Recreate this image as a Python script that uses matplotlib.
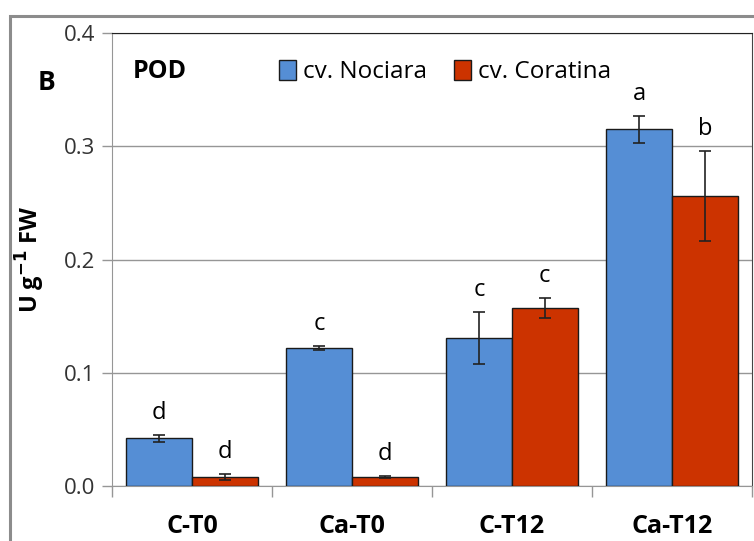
import numpy as np
import matplotlib.pyplot as plt
from matplotlib.patches import Rectangle

plt.rcParams["font.family"] = ["Open Sans", "DejaVu Sans"]

categories = ["C-T0", "Ca-T0", "C-T12", "Ca-T12"]
nociara = [0.042, 0.122, 0.131, 0.315]
nociara_err = [0.003, 0.002, 0.023, 0.012]
nociara_letters = ["d", "c", "c", "a"]
coratina = [0.008, 0.008, 0.157, 0.256]
coratina_err = [0.003, 0.001, 0.009, 0.040]
coratina_letters = ["d", "d", "c", "b"]

blue = "#558ed5"
red = "#cc3300"

fig = plt.figure(figsize=(7.54, 5.41), dpi=100)
ax = fig.add_axes([112 / 754, 1 - 486 / 541, 640 / 754, 453 / 541])

# outer gray frame (cut off at right and bottom like the original)
fig.patches.append(Rectangle((10 / 754, -0.1), 1.2, 1 - 16 / 541 + 0.1,
                             transform=fig.transFigure, fill=False,
                             edgecolor="#8c8c8c", linewidth=2.2, zorder=0))

x = np.arange(len(categories))
w = 0.41
err_kw = dict(ecolor="#222222", elinewidth=1.2, capsize=4.3, capthick=1.2)
ax.bar(x - w / 2, nociara, w, yerr=nociara_err, color=blue,
       edgecolor="#1a1a1a", linewidth=1, error_kw=err_kw,
       label="cv. Nociara", zorder=3)
ax.bar(x + w / 2, coratina, w, yerr=coratina_err, color=red,
       edgecolor="#1a1a1a", linewidth=1, error_kw=err_kw,
       label="cv. Coratina", zorder=3)

for xs, vals, errs, letters in [(x - w / 2, nociara, nociara_err, nociara_letters),
                                 (x + w / 2, coratina, coratina_err, coratina_letters)]:
    for xi, v, e, t in zip(xs, vals, errs, letters):
        ax.annotate(t, (xi, v + e), xytext=(0, 7), textcoords="offset points",
                    ha="center", va="bottom", fontsize=17)

ax.set_xlim(-0.5, 3.5)
ax.set_ylim(0, 0.4)
ax.set_yticks([0.0, 0.1, 0.2, 0.3, 0.4])
ax.set_yticklabels(["0.0", "0.1", "0.2", "0.3", "0.4"], fontsize=16, color="#333333")
ax.yaxis.grid(True, color="#969696", linewidth=1)
ax.set_axisbelow(True)

ax.set_xticks(x)
ax.set_xticklabels(categories, fontsize=18, fontweight="bold")
ax.tick_params(axis="x", length=0, pad=20)
ax.set_xticks(np.arange(-0.5, 4.0, 1), minor=True)
ax.tick_params(axis="x", which="minor", length=8, color="#969696", width=1)
ax.tick_params(axis="y", length=7, color="#969696", width=1, pad=5)

ax.spines["left"].set_color("#969696")
ax.spines["bottom"].set_color("#969696")
ax.spines["top"].set_color("#222222")
ax.spines["right"].set_color("#444444")

ax.set_ylabel("U g$^{\\mathbf{-1}}$ FW", fontsize=17, fontweight="bold", labelpad=12)

fig.text(47 / 754, 1 - 82 / 541, "B", fontsize=19, fontweight="bold",
         ha="center", va="center")
ax.text(0.033, 0.915, "POD", transform=ax.transAxes, fontsize=18,
        fontweight="bold", ha="left", va="center")

ax.legend(loc="upper center", bbox_to_anchor=(0.52, 1.0), ncol=2, frameon=False,
          fontsize=17.5, handlelength=0.7, handleheight=0.9, handletextpad=0.3,
          columnspacing=1.1, borderaxespad=0.7)

plt.savefig("out.png", dpi=100)
plt.close()
